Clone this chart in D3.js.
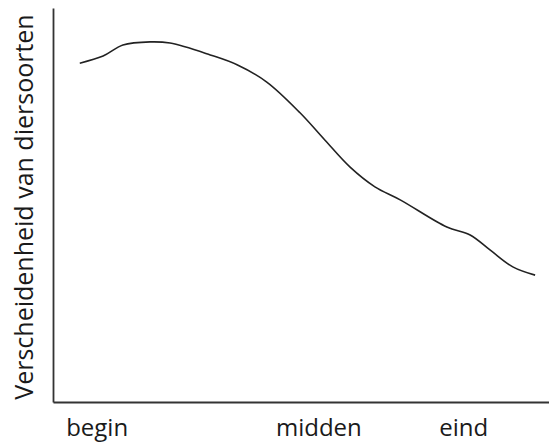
<!DOCTYPE html>
<html>
<head>
<meta charset="utf-8">
<script src="https://cdn.jsdelivr.net/npm/d3@7"></script>
<style>
  body { margin: 0; background: #fff; }
  text { font-family: "Open Sans", sans-serif; fill: #1a1a1a; }
</style>
</head>
<body>
<div id="chart"></div>
<script>
// curve (time 0-100, diversity 0-100)
const timeValues = [5.4, 10.1, 14.1, 19.6, 23.6, 31.7, 37.1, 43.1, 49.8, 54.8, 59.9, 64.9, 70.0, 79.4, 84.1, 88.1, 92.7, 97.2];
const diversityValues = [86.0, 87.8, 90.6, 91.4, 91.1, 88.1, 85.6, 81.2, 73.4, 66.5, 59.6, 54.6, 51.3, 44.4, 42.4, 38.6, 34.3, 32.2];
const tickPositions = [8.8, 53.5, 82.7];
const tickLabels = ["begin", "midden", "eind"];
const yLabel = "Verscheidenheid van diersoorten";

const width = 549, height = 443;
const margin = { top: 8, right: 0, bottom: 41, left: 53 };

const svg = d3.select("#chart")
    .append("svg")
    .attr("width", width)
    .attr("height", height);

const x = d3.scaleLinear()
    .domain([0, 100])
    .range([margin.left, width - margin.right]);

const y = d3.scaleLinear()
    .domain([0, 100])
    .range([height - margin.bottom, margin.top]);

// x axis
const xAxis = svg.append("g")
    .attr("transform", `translate(0,${height - margin.bottom})`)
    .call(d3.axisBottom(x)
        .tickValues(tickPositions)
        .tickFormat((d, i) => tickLabels[i])
        .tickSize(0)
        .tickSizeOuter(0)
        .tickPadding(17));
xAxis.select(".domain").attr("stroke", "#333").attr("stroke-width", 1.8);
xAxis.selectAll("text")
    .style("font-family", "'Open Sans', sans-serif")
    .style("font-size", "24px")
    .attr("fill", "#1a1a1a");

// y axis, no ticks
const yAxis = svg.append("g")
    .attr("transform", `translate(${margin.left},0)`)
    .call(d3.axisLeft(y).tickValues([]).tickSizeOuter(0));
yAxis.select(".domain").attr("stroke", "#333").attr("stroke-width", 1.8);

svg.append("text")
    .attr("transform", `translate(33,${(margin.top + height - margin.bottom) / 2 + 2}) rotate(-90)`)
    .attr("text-anchor", "middle")
    .style("font-size", "25px")
    .text(yLabel);

const data = timeValues.map((t, i) => [t, diversityValues[i]]);

const line = d3.line()
    .x(d => x(d[0]))
    .y(d => y(d[1]))
    .curve(d3.curveCatmullRom.alpha(0.5));

svg.append("path")
    .datum(data)
    .attr("fill", "none")
    .attr("stroke", "#222")
    .attr("stroke-width", 1.6)
    .attr("d", line);
</script>
</body>
</html>
